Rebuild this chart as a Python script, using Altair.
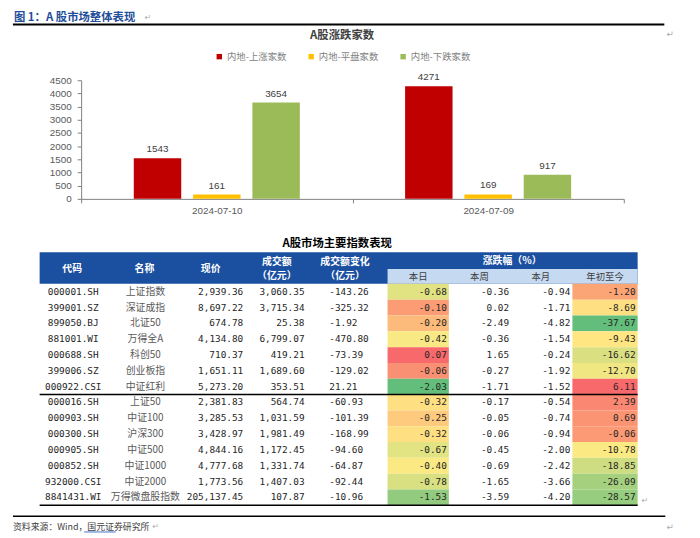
import altair as alt
import pandas as pd
import numpy as np

# ---------------- data ----------------
dates = ["2024-07-10", "2024-07-09"]
series = ["内地-上涨家数", "内地-平盘家数", "内地-下跌家数"]
up_counts = [1543, 4271]
flat_counts = [161, 169]
down_counts = [3654, 917]
y_ticks = [0, 500, 1000, 1500, 2000, 2500, 3000, 3500, 4000, 4500]

codes = ["000001.SH", "399001.SZ", "899050.BJ", "881001.WI", "000688.SH", "399006.SZ",
         "000922.CSI", "000016.SH", "000903.SH", "000300.SH", "000905.SH", "000852.SH",
         "932000.CSI", "8841431.WI"]
names = ["上证指数", "深证成指", "北证50", "万得全A", "科创50", "创业板指", "中证红利",
         "上证50", "中证100", "沪深300", "中证500", "中证1000", "中证2000", "万得微盘股指数"]
price = [2939.36, 8697.22, 674.78, 4134.80, 710.37, 1651.11, 5273.20,
         2381.83, 3285.53, 3428.97, 4844.16, 4777.68, 1773.56, 205137.45]
turnover = [3060.35, 3715.34, 25.38, 6799.07, 419.21, 1689.60, 353.51,
            564.74, 1031.59, 1981.49, 1172.45, 1331.74, 1407.03, 107.87]
turnover_chg = [-143.26, -325.32, -1.92, -470.80, -73.39, -129.02, 21.21,
                -60.93, -101.39, -168.99, -94.60, -64.87, -92.44, -10.96]
chg_day = [-0.68, -0.10, -0.20, -0.42, 0.07, -0.06, -2.03,
           -0.32, -0.25, -0.32, -0.67, -0.40, -0.78, -1.53]
chg_week = [-0.36, 0.02, -2.49, -0.36, 1.65, -0.27, -1.71,
            -0.17, -0.05, -0.06, -0.45, -0.69, -1.65, -3.59]
chg_month = [-0.94, -1.71, -4.82, -1.54, -0.24, -1.92, -1.52,
             -0.54, -0.74, -0.94, -2.00, -2.42, -3.66, -4.20]
chg_ytd = [-1.20, -8.69, -37.67, -9.43, -16.62, -12.70, 6.11,
           2.39, 0.69, -0.06, -10.78, -18.85, -26.09, -28.57]

# ---------------- styles / layout ----------------
CJK = "Noto Sans CJK SC"
LAT = "Liberation Sans"
MONO = "DejaVu Sans Mono"
BAR_COLORS = ["#C00000", "#FFC000", "#9BBB59"]
BLUE = "#1B4F9F"
LIGHT_BLUE = "#C5D9F1"
GREEN, YELLOW, RED = "#63BE7B", "#FFEB84", "#F8696B"

OX, OY = 82, 78          # page position of the bar plot origin
W, H = 549, 120


def px(x):
    return x - OX


def py(y):
    return y - OY


ONE = alt.Data(values=[{"k": 0}])


def label(text, x, y, size=10, color="#333333", font=CJK, weight="normal",
          align="left", baseline="middle"):
    return alt.Chart(ONE).mark_text(
        text=text, fontSize=size, color=color, font=font, fontWeight=weight,
        align=align, baseline=baseline
    ).encode(x=alt.value(px(x)), y=alt.value(py(y)))


def hline(x1, x2, y, color="#000000", width=1.5):
    return alt.Chart(ONE).mark_rule(color=color, strokeWidth=width).encode(
        x=alt.value(px(x1)), x2=alt.value(px(x2)), y=alt.value(py(y)))


def box(x1, x2, y1, y2, color):
    return alt.Chart(ONE).mark_rect(color=color).encode(
        x=alt.value(px(x1)), x2=alt.value(px(x2)),
        y=alt.value(py(y1)), y2=alt.value(py(y2)))


# ---------------- bar chart ----------------
rows = []
for i, d in enumerate(dates):
    for s, vals in zip(series, [up_counts, flat_counts, down_counts]):
        rows.append({"date": d, "series": s, "count": vals[i]})
bar_df = pd.DataFrame(rows)

xenc = alt.X("date:N", sort=dates,
             scale=alt.Scale(paddingInner=0, paddingOuter=0),
             axis=alt.Axis(title=None, labelAngle=0, tickBand="extent",
                           labelFont=LAT, labelFontSize=10, labelColor="#595959",
                           domainColor="#7f7f7f", tickColor="#7f7f7f",
                           tickSize=4, labelPadding=3))
xoff = alt.XOffset("series:N", sort=series,
                   scale=alt.Scale(paddingInner=0.2, paddingOuter=0.8875))
yscale = alt.Scale(domain=[0, 4500], nice=False)

bars = alt.Chart(bar_df).mark_bar().encode(
    x=xenc, xOffset=xoff,
    y=alt.Y("count:Q", scale=yscale,
            axis=alt.Axis(title=None, values=y_ticks, format="d", grid=False,
                          labelFont=LAT, labelFontSize=10, labelColor="#595959",
                          domainColor="#7f7f7f", tickColor="#7f7f7f",
                          tickSize=4, labelPadding=6)),
    color=alt.Color("series:N", sort=series,
                    scale=alt.Scale(domain=series, range=BAR_COLORS),
                    legend=alt.Legend(orient="none", legendX=px(217), legendY=py(49),
                                      direction="horizontal", title=None,
                                      symbolType="square", symbolSize=30,
                                      symbolStrokeWidth=0, labelFont=CJK,
                                      labelFontSize=9.5, labelColor="#7f7f7f",
                                      columnPadding=20, labelOffset=3, padding=0))
)
bar_text = alt.Chart(bar_df).mark_text(
    baseline="bottom", dy=-4, font=LAT, fontSize=10, color="#404040"
).encode(
    x=xenc, xOffset=xoff,
    y=alt.Y("count:Q", scale=yscale, axis=None),
    text=alt.Text("count:Q", format="d"))

# ---------------- table ----------------
n = len(codes)
tbl = pd.DataFrame({
    "r0": np.arange(n), "r1": np.arange(n) + 1, "yc": np.arange(n) + 0.5,
    "code": codes, "name": names,
    "price_s": [f"{v:,.2f}" for v in price],
    "turn_s": [f"{v:,.2f}" for v in turnover],
    "tchg_s": [f"{v:.2f}" for v in turnover_chg],
    "d_s": [f"{v:.2f}" for v in chg_day],
    "w_s": [f"{v:.2f}" for v in chg_week],
    "m_s": [f"{v:.2f}" for v in chg_month],
    "y_s": [f"{v:.2f}" for v in chg_ytd],
    "d": chg_day, "ytd": chg_ytd,
})
row_scale = alt.Scale(domain=[0, n], range=[py(284), py(508)], nice=False, zero=False)


def heat(field, x1, x2):
    vals = np.array(tbl[field], dtype=float)
    dom = [float(vals.min()), float(np.median(vals)), float(vals.max())]
    return alt.Chart(tbl).mark_rect().encode(
        x=alt.value(px(x1)), x2=alt.value(px(x2)),
        y=alt.Y("r0:Q", scale=row_scale, axis=None), y2="r1:Q",
        color=alt.Color(f"{field}:Q",
                        scale=alt.Scale(domain=dom, range=[GREEN, YELLOW, RED],
                                        interpolate="rgb"),
                        legend=None))


def col_text(field, x, align, font=MONO, size=9.5, color="#262626"):
    return alt.Chart(tbl).mark_text(
        align=align, baseline="middle", font=font, fontSize=size, color=color
    ).encode(x=alt.value(px(x)), y=alt.Y("yc:Q", scale=row_scale, axis=None),
             text=f"{field}:N")


layers = [
    # document header
    label("图 1：A 股市场整体表现", 14, 15, size=11.5, color="#1F4E9A", weight="bold"),
    label("↵", 146, 15, size=8, color="#aaaaaa", font="DejaVu Sans"),
    hline(13, 672, 21.5, width=2),
    label("↵", 678, 31, size=9, color="#aaaaaa", font="DejaVu Sans", align="center"),
    # bar chart title
    label("A股涨跌家数", 346, 33, size=11.5, color="#404040", weight="bold", align="center"),
    bars, bar_text,
    # table title + header
    label("A股市场主要指数表现", 341, 244, size=11.5, color="#000000", weight="bold",
          align="center"),
    box(40, 645, 252, 284, BLUE),
    box(392, 645, 269, 284, LIGHT_BLUE),
    label("代码", 73, 269, color="white", weight="bold", align="center"),
    label("名称", 146, 269, color="white", weight="bold", align="center"),
    label("现价", 213, 269, color="white", weight="bold", align="center"),
    label("成交额", 280, 262, color="white", weight="bold", align="center"),
    label("（亿元）", 280, 276, color="white", weight="bold", align="center"),
    label("成交额变化", 349, 262, color="white", weight="bold", align="center"),
    label("（亿元）", 349, 276, color="white", weight="bold", align="center"),
    label("涨跌幅（%）", 518, 261, color="white", weight="bold", align="center"),
    label("本日", 423, 277, size=9.5, color="#404040", align="center"),
    label("本周", 485, 277, size=9.5, color="#404040", align="center"),
    label("本月", 547, 277, size=9.5, color="#404040", align="center"),
    label("年初至今", 612, 277, size=9.5, color="#404040", align="center"),
    # heat cells
    heat("d", 392, 454),
    heat("ytd", 579, 645),
    # cell texts
    col_text("code", 74, "center"),
    col_text("name", 147, "center", font=CJK, size=10, color="#595959"),
    col_text("price_s", 246, "right"),
    col_text("turn_s", 308, "right"),
    col_text("tchg_s", 333, "left"),
    col_text("d_s", 452, "right"),
    col_text("w_s", 515, "right"),
    col_text("m_s", 577, "right"),
    col_text("y_s", 643, "right"),
    # table rules
    hline(40, 645, 396, width=1.5),
    hline(40, 645, 508, width=1.5),
    label("↵", 649, 504, size=8, color="#aaaaaa", font="DejaVu Sans"),
    # footer
    hline(13, 673, 519, width=1.5),
    label("资料来源：Wind，国元证券研究所", 13, 530, size=9, color="#404040"),
    hline(85, 117, 535, color="#4472C4", width=1),
    label("↵", 154, 530, size=8, color="#aaaaaa", font="DejaVu Sans"),
    label("↵", 678, 530, size=9, color="#aaaaaa", font="DejaVu Sans", align="center"),
]

chart = alt.layer(*layers).resolve_scale(
    y="independent", color="independent"
).properties(
    width=W, height=H,
    autosize=alt.AutoSizeParams(type="none"),
    padding={"left": OX - 8, "top": OY - 8, "right": 700 - (OX + W), "bottom": 530 - (OY - 8) - H},
).configure_view(stroke=None)

chart.save("out.html", embed_options={"renderer": "svg", "actions": False})
